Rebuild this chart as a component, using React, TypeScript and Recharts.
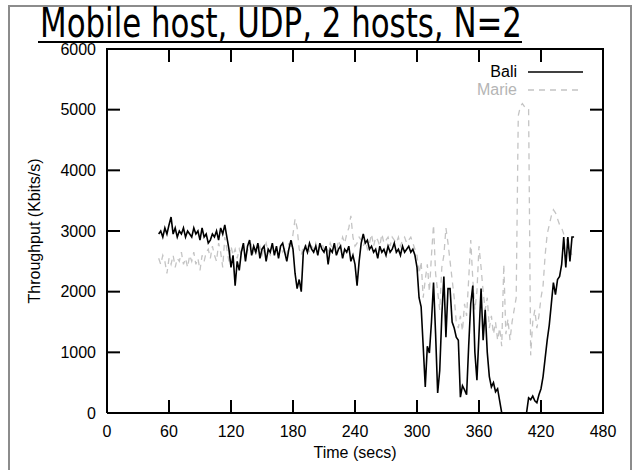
import { LineChart, Line, XAxis, YAxis, Legend } from "recharts";

// time axis: one sample every 2 s, starting at 50 s
const startSec = 50;
const stepSec = 2;

const baliKbits = [
  2950, 3000, 2900, 3050, 2950, 3100, 3230, 2950, 3050, 2900,
  3000, 2950, 3050, 2900, 3000, 2950, 2900, 3050, 2950, 3000,
  2850, 3050, 2900, 2950, 2800, 2850, 2950, 2900, 3000, 2850,
  3050, 2950, 3100, 2900, 2700, 2400, 2600, 2100, 2500, 2350,
  2650, 2800, 2500, 2750, 2850, 2600, 2750, 2650, 2800, 2550,
  2700, 2750, 2500, 2700, 2650, 2800, 2600, 2750, 2550, 2750,
  2800, 2650, 2500, 2700, 2850, 2700, 2300, 2050, 2200, 2000,
  2650, 2750, 2650, 2800, 2700, 2650, 2750, 2600, 2800, 2700,
  2650, 2750, 2450, 2700, 2650, 2800, 2600, 2700, 2750, 2550,
  2700, 2650, 2750, 2500, 2600, 2450, 2100, 2500, 2800, 2950,
  2800, 2850, 2700, 2750, 2650, 2700, 2550, 2750, 2650, 2700,
  2600, 2750, 2650, 2700, 2800, 2650, 2700, 2600, 2750, 2650,
  2700, 2750, 2650, 2700, 2600, 2400, 1900, 1750, 1100, 430,
  1100, 990, 1500, 2150, 1300, 330, 700, 1600, 2250, 1250,
  2050, 2050, 1500, 1400, 1250, 1200, 260, 450, 380, 300,
  1100, 1800, 2100, 1000, 540, 1300, 2050, 1200, 1700, 1000,
  600, 430, 500, 350, 400, 200, 0, 0, 0, 0,
  0, 0, 0, 0, 0, 0, 0, 0, 0, 250,
  220, 280, 200, 170, 300, 400, 600, 900, 1200, 1450,
  1800, 2150, 1950, 2200, 2250, 2450, 2900, 2400, 2900, 2500,
  2900, 2900,
];

const marieKbits = [
  2550, 2450, 2600, 2500, 2300, 2550, 2450, 2600, 2400, 2550,
  2500, 2650, 2450, 2550, 2400, 2600, 2500, 2650, 2450, 2550,
  2350, 2600, 2500, 2650, 2700, 2550, 2750, 2600, 2500, 2800,
  2650, 2400, 2900, 2700, 2500, 2750, 2600, 2700, 2550, 2700,
  2600, 2750, 2550, 2700, 2650, 2800, 2600, 2700, 2650, 2750,
  2600, 2700, 2800, 2650, 2600, 2750, 2650, 2700, 2600, 2750,
  2650, 2700, 2600, 2800, 2700, 2950, 3200, 3050, 2700, 2600,
  2750, 2700, 2800, 2650, 2750, 2700, 2800, 2650, 2750, 2800,
  2700, 2750, 2650, 2800, 2700, 2750, 2650, 2850, 2750, 2900,
  2800, 2950, 3050, 3250, 2900, 2750, 2800, 2900, 2850, 2750,
  2850, 2700, 2800, 2950, 2750, 2900, 2850, 2750, 2950, 2800,
  2850, 2900, 2750, 2900, 2850, 2800, 2900, 2750, 2850, 2900,
  2800, 2850, 2900, 2800, 2700, 2600, 2300, 2500, 1900, 2200,
  2450, 2000, 2600, 3100, 2300, 2000, 1700, 2400, 2600, 3050,
  2800, 2500, 2200, 1900, 1500, 1400, 1600, 1350, 1800, 1600,
  2200, 2850, 2200, 1700, 2000, 2750, 2400, 2000, 1700, 1900,
  1400, 1600, 1300, 1500, 1200, 1400, 1100, 2450, 1300, 1550,
  1200, 1500, 1700, 1900, 4900, 5050, 5100, 5050, 5000, 5000,
  950, 1500, 1700, 1400, 1600, 1900, 2100, 2600, 2950, 3100,
  3250, 3350, 3300, 3200, 3100, 3050, 2950, 2900, 2800, 2700,
  2600, 2550,
];

const timeTicks = [0, 60, 120, 180, 240, 300, 360, 420, 480];
const throughputTicks = [0, 1000, 2000, 3000, 4000, 5000, 6000];
const titleText = "Mobile host, UDP, 2 hosts, N=2";
const seriesNames = ["Bali", "Marie"];
const seriesColors = ["#000", "#c4c4c4"];
const keyTextColors = ["#000", "#b5b5b5"];
const seriesDash = [undefined, "6 5"];

const data = baliKbits.map((v, i) => ({
  t: startSec + i * stepSec,
  Bali: v,
  Marie: marieKbits[i],
}));

// plot box (same numbers the chart margins/axis sizes produce)
const W = 634, H = 470;
const box = { left: 107, top: 49, right: 603, bottom: 413 };
const xMax = 480, yMax = 6000, tickLen = 13;
const px = (t: number) => box.left + (t / xMax) * (box.right - box.left);
const py = (v: number) => box.bottom - (v / yMax) * (box.bottom - box.top);

const font = "'Liberation Sans', Arial, sans-serif";
const axisStyle = { stroke: "#000", strokeWidth: 2 };
const tickFont = { fontSize: 16, fill: "#000", fontFamily: font };
const layer = { position: "absolute" as const, left: 0, top: 0 };

function KeyBox() {
  return (
    <svg width={140} height={40} style={{ display: "block" }}>
      {seriesNames.map((name, i) => (
        <g key={name}>
          <text x={57} y={17 + i * 18} textAnchor="end" fontSize={16} fontFamily={font} fill={keyTextColors[i]}>
            {name}
          </text>
          <line x1={68} x2={123} y1={12 + i * 18} y2={12 + i * 18} stroke={seriesColors[i]} strokeWidth={1.3}
            strokeDasharray={seriesDash[i]} />
        </g>
      ))}
    </svg>
  );
}

// top and right edges of the gnuplot-style box, with mirrored tick marks
function MirrorFrame() {
  return (
    <svg width={W} height={H} style={{ ...layer, pointerEvents: "none" }}>
      <g stroke="#000" strokeWidth={2} strokeLinecap="square">
        <line x1={box.left} x2={box.right} y1={box.top} y2={box.top} />
        <line x1={box.right} x2={box.right} y1={box.top} y2={box.bottom} />
      </g>
      <g stroke="#000" strokeWidth={2}>
        {timeTicks.slice(1, -1).map((t) => (
          <line key={"t" + t} x1={px(t)} x2={px(t)} y1={box.top} y2={box.top + tickLen} />
        ))}
        {throughputTicks.slice(1, -1).map((v) => (
          <line key={"v" + v} x1={box.right} x2={box.right - tickLen} y1={py(v)} y2={py(v)} />
        ))}
      </g>
    </svg>
  );
}

export default function App() {
  return (
    <div style={{ position: "absolute", left: 0, top: 0, width: W, height: H, overflow: "hidden", background: "#fff" }}>
      <div style={{ position: "absolute", left: 8, top: 5, width: 620, height: 480, border: "2px solid #8c8c8c" }} />
      <svg width={W} height={50} style={layer}>
        <text x={40} y={37} fontSize={40} fontFamily="'DejaVu Sans Condensed', 'DejaVu Sans', sans-serif"
          textLength={482} lengthAdjust="spacingAndGlyphs" fill="#000">
          {titleText}
        </text>
        <line x1={38} x2={522} y1={42} y2={42} stroke="#000" strokeWidth={2} />
      </svg>

      <div style={layer}>
        <LineChart width={W} height={H} data={data}
          margin={{ top: box.top, right: W - box.right, bottom: 0, left: 0 }}>
          <XAxis dataKey="t" type="number" domain={[0, xMax]} ticks={timeTicks} height={H - box.bottom}
            axisLine={axisStyle} tickLine={axisStyle} tickSize={-tickLen} tickMargin={26} tick={tickFont}
            label={{ value: "Time (secs)", position: "insideBottom", offset: 12, fontSize: 16, fill: "#000", fontFamily: font }} />
          <YAxis type="number" domain={[0, yMax]} ticks={throughputTicks} width={box.left}
            axisLine={axisStyle} tickLine={axisStyle} tickSize={-tickLen} tickMargin={24} tick={tickFont}
            label={{ value: "Throughput (Kbits/s)", angle: -90, position: "insideLeft", offset: 34, fontSize: 16, fill: "#000", fontFamily: font, style: { textAnchor: "middle" } }} />
          <Legend layout="horizontal" verticalAlign="middle" align="center" content={KeyBox}
            wrapperStyle={{ position: "absolute", top: 60, left: 460, width: 140, height: 40 }} />
          <Line type="linear" dataKey="Marie" stroke={seriesColors[1]} strokeWidth={1.3} strokeDasharray="6 5" dot={false} isAnimationActive={false} />
          <Line type="linear" dataKey="Bali" stroke={seriesColors[0]} strokeWidth={1.6} dot={false} isAnimationActive={false} />
        </LineChart>
      </div>

      <MirrorFrame />
    </div>
  );
}
